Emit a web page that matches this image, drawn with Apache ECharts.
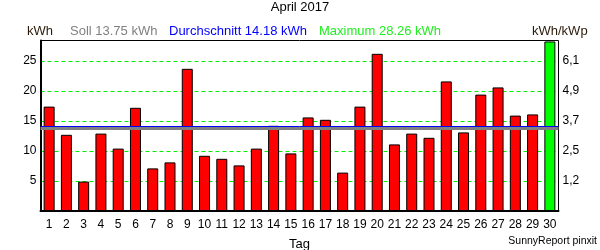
<!DOCTYPE html>
<html><head><meta charset="utf-8">
<script src="https://cdn.jsdelivr.net/npm/echarts@6/dist/echarts.min.js"></script>
<style>html,body{margin:0;padding:0;background:#fff}#c{width:600px;height:250px}</style>
</head><body><div id="c"></div>
<script>
const days = ['1','2','3','4','5','6','7','8','9','10','11','12','13','14','15','16','17','18','19','20','21','22','23','24','25','26','27','28','29','30'];
const energy = [17.4,12.7,4.9,12.9,10.4,17.2,7.1,8.1,23.7,9.2,8.7,7.6,10.4,14.2,9.6,15.6,15.2,6.4,17.4,26.2,11.1,12.9,12.2,21.6,13.1,19.4,20.6,15.9,16.1,28.26];
const leftTicks = [5,10,15,20,25];
const rightTickLabels = ['1,2','2,5','3,7','4,9','6,1'];
const soll = 13.75;
const average = 14.18;
const maximum = 28.26;
const yMax = 28.42;

const F = 'Liberation Sans, Arial, sans-serif';
const maxIdx = energy.indexOf(Math.max(...energy));
const barData = energy.map((v,i)=>({value:v,itemStyle:{color:i===maxIdx?'#00ff00':'#ff0000'}}));

function refLine(name, value, color, width){
  return {type:'line',name:name,data:[],z:5,silent:true,color:color,
    markLine:{z:5,silent:true,symbol:['none','none'],label:{show:false},
      lineStyle:{color:color,width:width,type:'solid',opacity:1},
      emphasis:{disabled:true},
      data:[{yAxis:value}]}};
}

const chart = echarts.init(document.getElementById('c'));
chart.setOption({
  animation:false,
  backgroundColor:'#fff',
  grid:{left:40.5,right:41.5,top:40.5,bottom:39,outerBoundsMode:'none',containLabel:false,show:true,borderColor:'#000',borderWidth:1,backgroundColor:'transparent'},
  graphic:[
    {type:'text',left:'center',top:1,style:{text:'April 2017',font:'13px '+F,fill:'#000'}},
    {type:'text',left:27,top:25,style:{text:'kWh',font:'13px '+F,fill:'#2a1a0a'}},
    {type:'text',left:70,top:25,style:{text:'Soll '+soll.toFixed(2)+' kWh',font:'13px '+F,fill:'#808080'}},
    {type:'text',left:169,top:25,style:{text:'Durchschnitt '+average.toFixed(2)+' kWh',font:'13px '+F,fill:'#0000ff'}},
    {type:'text',left:319,top:25,style:{text:'Maximum '+maximum.toFixed(2)+' kWh',font:'13px '+F,fill:'#22ee22'}},
    {type:'text',left:532,top:25,style:{text:'kWh/kWp',font:'13px '+F,fill:'#2a1a0a'}},
    {type:'text',right:3,top:236,style:{text:'SunnyReport pinxit',font:'10.5px '+F,fill:'#000'}}
  ],
  xAxis:{type:'category',data:days,boundaryGap:true,
    axisLine:{lineStyle:{color:'#000',width:2}},axisTick:{show:false},splitLine:{show:false},
    axisLabel:{color:'#000',fontSize:12,fontFamily:F,margin:8,interval:0},
    name:'Tag',nameLocation:'middle',nameGap:27,nameTextStyle:{color:'#000',fontSize:13,fontFamily:F}},
  yAxis:[
    {type:'value',min:0,max:yMax,interval:5,
     axisLine:{show:true,lineStyle:{color:'#000',width:2}},axisTick:{show:false},
     splitLine:{show:true,showMinLine:false,showMaxLine:false,lineStyle:{color:'#00ee00',type:[4,3],width:1}},
     axisLabel:{color:'#000',fontSize:12,fontFamily:F,margin:4,formatter:v=>leftTicks.includes(v)?String(v):''}},
    {type:'value',min:0,max:yMax,interval:5,position:'right',
     axisLine:{show:false},axisTick:{show:false},splitLine:{show:false},
     axisLabel:{color:'#000',fontSize:12,fontFamily:F,margin:4,formatter:v=>{const k=leftTicks.indexOf(v);return k>=0?rightTickLabels[k]:'';}}}
  ],
  series:[
    {type:'bar',data:barData,barWidth:11,z:2,
     itemStyle:{borderColor:'#000',borderWidth:1}},
    refLine('Soll', soll, '#808080', 3),
    refLine('Durchschnitt', average, '#0000ff', 1)
  ]
});
</script></body></html>
